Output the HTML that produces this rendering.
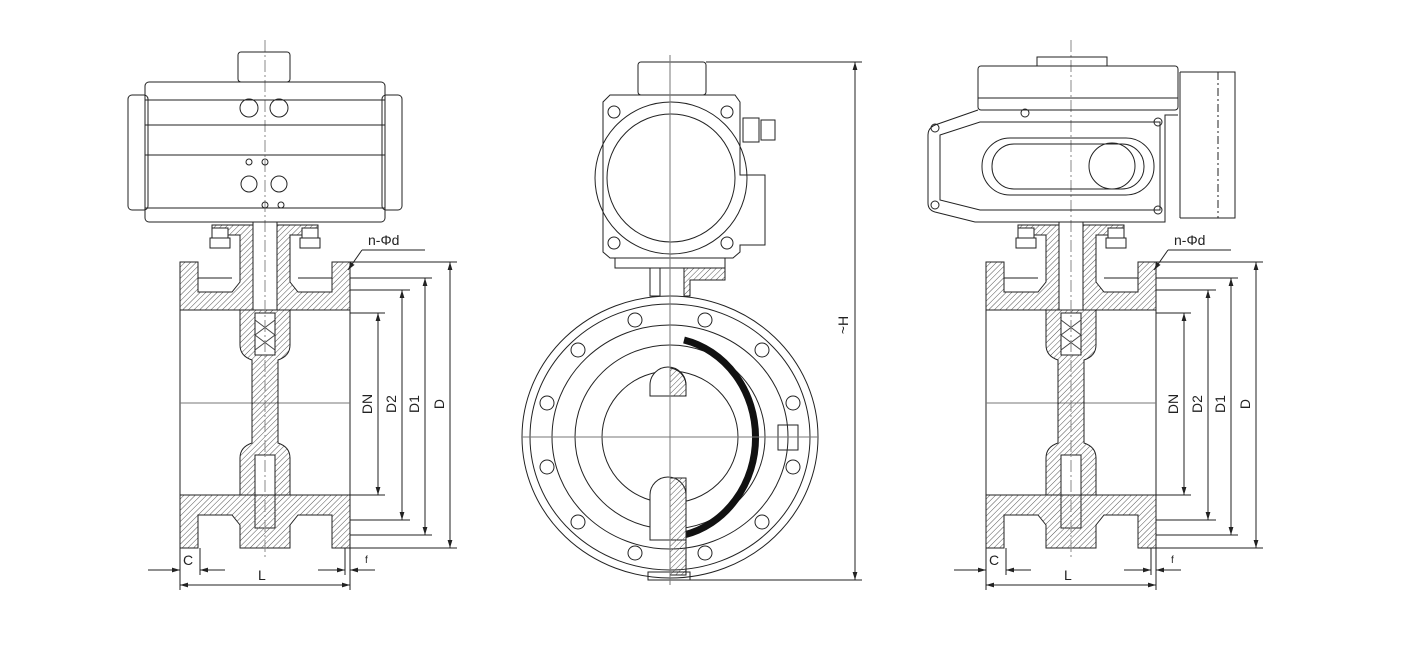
<!DOCTYPE html>
<html><head><meta charset="utf-8"><style>
html,body{margin:0;padding:0;background:#fff;}
svg{display:block}
text{font-family:"Liberation Sans",sans-serif;font-size:14px;fill:#222}
</style></head><body>
<svg width="1404" height="659" viewBox="0 0 1404 659" xmlns="http://www.w3.org/2000/svg">
<defs>
<marker id="a" viewBox="0 0 10 10" refX="10" refY="5" markerWidth="8" markerHeight="8" orient="auto-start-reverse"><path d="M0,2 L10,5 L0,8 z" fill="#222"/></marker>
<pattern id="h" width="4" height="4" patternUnits="userSpaceOnUse" patternTransform="rotate(45)"><line x1="0" y1="0" x2="0" y2="4" stroke="#555" stroke-width="1"/></pattern>
<g id="valve">
 <!-- top flange / neck -->
 <path d="M180,262 H198 V292 H232 L240,282 V235 H212 V225 H253 V310 H180 Z" fill="url(#h)" stroke="#222"/>
 <path d="M350,262 H332 V292 H298 L290,282 V235 H318 V225 H277 V310 H350 Z" fill="url(#h)" stroke="#222"/>
 <line x1="198" y1="278" x2="232" y2="278" stroke="#222"/><line x1="298" y1="278" x2="332" y2="278" stroke="#222"/>
 <rect x="180" y="310" width="170" height="185" fill="none" stroke="#222"/>
 <line x1="180" y1="403" x2="350" y2="403" stroke="#777"/>
 <!-- disc -->
 <path d="M240,310 H290 V345 Q290,356 278,360 V443 Q290,447 290,458 V495 H240 V458 Q240,447 252,443 V360 Q240,356 240,345 Z" fill="url(#h)" stroke="#222"/>
 <rect x="255" y="313" width="20" height="42" fill="#fff" stroke="#222"/>
 <path d="M255,320 L275,335 M275,320 L255,335 M255,335 L275,350 M275,335 L255,350" stroke="#444"/>
 <rect x="255" y="455" width="20" height="73" fill="#fff" stroke="#222"/>
 <!-- bottom flange -->
 <path d="M180,495 H350 V548 H332 V515 H298 L290,525 V548 H240 V525 L232,515 H198 V548 H180 Z" fill="url(#h)" stroke="#222"/>
 <rect x="253" y="222" width="24" height="88" fill="#fff" stroke="#222"/>
 <g stroke="#222" fill="#fff">
  <rect x="212" y="228" width="16" height="10"/><rect x="210" y="238" width="20" height="10"/>
  <rect x="302" y="228" width="16" height="10"/><rect x="300" y="238" width="20" height="10"/>
 </g>
 <line x1="265" y1="40" x2="265" y2="560" stroke="#888" stroke-dasharray="12,3,2,3"/>
 <!-- dims -->
 <g stroke="#222" fill="none">
  <line x1="350" y1="313" x2="385" y2="313"/><line x1="350" y1="495" x2="385" y2="495"/>
  <line x1="350" y1="290" x2="410" y2="290"/><line x1="350" y1="520" x2="410" y2="520"/>
  <line x1="350" y1="278" x2="432" y2="278"/><line x1="350" y1="535" x2="432" y2="535"/>
  <line x1="350" y1="262" x2="457" y2="262"/><line x1="350" y1="548" x2="457" y2="548"/>
  <line x1="378" y1="313" x2="378" y2="495" marker-start="url(#a)" marker-end="url(#a)"/>
  <line x1="402" y1="290" x2="402" y2="520" marker-start="url(#a)" marker-end="url(#a)"/>
  <line x1="425" y1="278" x2="425" y2="535" marker-start="url(#a)" marker-end="url(#a)"/>
  <line x1="450" y1="262" x2="450" y2="548" marker-start="url(#a)" marker-end="url(#a)"/>
  <line x1="180" y1="548" x2="180" y2="590"/><line x1="200" y1="548" x2="200" y2="575"/>
  <line x1="350" y1="548" x2="350" y2="590"/><line x1="345" y1="548" x2="345" y2="575"/>
  <line x1="148" y1="570" x2="180" y2="570" marker-end="url(#a)"/>
  <line x1="200" y1="570" x2="225" y2="570" marker-start="url(#a)"/>
  <line x1="180" y1="585" x2="350" y2="585" marker-start="url(#a)" marker-end="url(#a)"/>
  <line x1="318" y1="570" x2="345" y2="570" marker-end="url(#a)"/>
  <line x1="350" y1="570" x2="375" y2="570" marker-start="url(#a)"/>
  <line x1="348" y1="270" x2="362" y2="250" marker-start="url(#a)"/><line x1="362" y1="250" x2="425" y2="250"/>
 </g>
 <text x="368" y="245">n-Φd</text>
 <text transform="translate(372,404) rotate(-90)" text-anchor="middle">DN</text>
 <text transform="translate(396,404) rotate(-90)" text-anchor="middle">D2</text>
 <text transform="translate(419,404) rotate(-90)" text-anchor="middle">D1</text>
 <text transform="translate(444,404) rotate(-90)" text-anchor="middle">D</text>
 <text x="183" y="565">C</text>
 <text x="258" y="580">L</text>
 <text x="365" y="563" style="font-size:10px">f</text>
</g>
</defs>

<!-- LEFT -->
<use href="#valve"/>
<g stroke="#222" fill="none">
 <rect x="238" y="52" width="52" height="30" rx="3"/>
 <rect x="145" y="82" width="240" height="140" rx="4"/>
 <rect x="128" y="95" width="20" height="115" rx="4"/>
 <rect x="382" y="95" width="20" height="115" rx="4"/>
 <line x1="145" y1="125" x2="385" y2="125"/><line x1="145" y1="155" x2="385" y2="155"/>
 <line x1="145" y1="100" x2="385" y2="100"/><line x1="145" y1="208" x2="385" y2="208"/>
 <circle cx="249" cy="108" r="9"/><circle cx="279" cy="108" r="9"/>
 <circle cx="249" cy="184" r="8"/><circle cx="279" cy="184" r="8"/>
 <circle cx="249" cy="162" r="3"/><circle cx="265" cy="162" r="3"/>
 <circle cx="265" cy="205" r="3"/><circle cx="281" cy="205" r="3"/>
</g>

<!-- MIDDLE -->
<g stroke="#222" fill="none">
 <rect x="638" y="62" width="68" height="33" rx="3"/>
 <path d="M610,95 H735 L740,102 V175 H765 V245 H740 V252 L733,258 H610 L603,252 V102 Z"/>
 <rect x="743" y="118" width="16" height="24"/><rect x="761" y="120" width="14" height="20"/>
 <circle cx="671" cy="178" r="76"/><circle cx="671" cy="178" r="64"/>
 <circle cx="614" cy="112" r="6"/><circle cx="727" cy="112" r="6"/><circle cx="614" cy="243" r="6"/><circle cx="727" cy="243" r="6"/>
 <path d="M615,258 V268 H725 V258"/>
 <rect x="650" y="268" width="10" height="28"/>
 <path d="M684,268 H725 V280 H690 L690,296 H684 Z" fill="url(#h)"/>
 <ellipse cx="670" cy="437" rx="148" ry="141"/>
 <ellipse cx="670" cy="437" rx="140" ry="133"/>
 <ellipse cx="670" cy="437" rx="118" ry="112"/>
 <ellipse cx="670" cy="437" rx="95" ry="92"/>
 <ellipse cx="670" cy="437" rx="68" ry="66"/>
 <path d="M684,340 A92,100 0 0 1 684,535" stroke="#111" stroke-width="7"/>
 <path d="M650,385 A18,18 0 0 1 686,385 V396 H650 Z" fill="#fff"/>
 <path d="M670,370 V396 H686 V385 A18,18 0 0 0 670,368" fill="url(#h)"/>
 <path d="M650,495 A18,18 0 0 1 686,495 V540 H650 Z" fill="#fff"/>
 <path d="M670,478 H686 V575 H670 Z" fill="url(#h)"/>
 <rect x="648" y="572" width="42" height="8"/>
 <rect x="778" y="425" width="20" height="25"/>
 <line x1="670" y1="55" x2="670" y2="585" stroke="#777"/>
 <line x1="522" y1="437" x2="818" y2="437" stroke="#777"/>
 <g>
 <circle cx="635" cy="320" r="7"/><circle cx="578" cy="350" r="7"/><circle cx="547" cy="403" r="7"/>
 <circle cx="547" cy="467" r="7"/><circle cx="578" cy="522" r="7"/><circle cx="635" cy="553" r="7"/>
 <circle cx="705" cy="320" r="7"/><circle cx="762" cy="350" r="7"/><circle cx="793" cy="403" r="7"/>
 <circle cx="793" cy="467" r="7"/><circle cx="762" cy="522" r="7"/><circle cx="705" cy="553" r="7"/>
 </g>
 <line x1="706" y1="62" x2="862" y2="62"/><line x1="690" y1="580" x2="862" y2="580"/>
 <line x1="855" y1="62" x2="855" y2="580" marker-start="url(#a)" marker-end="url(#a)"/>
</g>
<text transform="translate(848,325) rotate(-90)" text-anchor="middle">~H</text>

<!-- RIGHT -->
<use href="#valve" transform="translate(806,0)"/>
<g stroke="#222" fill="none">
 <rect x="978" y="66" width="200" height="44" rx="3"/>
 <rect x="1037" y="57" width="70" height="9"/>
 <line x1="978" y1="98" x2="1178" y2="98"/>
 <path d="M978,110 L935,125 Q928,128 928,135 V203 Q928,210 935,212 L975,222 H1165 V115 H1178"/>
 <path d="M940,135 L980,122 H1160 V210 H980 L940,200 Z"/>
 <rect x="982" y="138" width="172" height="57" rx="28"/>
 <rect x="992" y="144" width="152" height="45" rx="22"/>
 <circle cx="1112" cy="166" r="23"/>
 <path d="M1180,72 H1235 V218 H1180"/>
 <line x1="1218" y1="72" x2="1218" y2="218" stroke-dasharray="8,3,2,3"/>
 <line x1="1180" y1="72" x2="1180" y2="218"/>
 <circle cx="935" cy="128" r="4"/><circle cx="935" cy="205" r="4"/>
 <circle cx="1158" cy="122" r="4"/><circle cx="1158" cy="210" r="4"/>
 <circle cx="1025" cy="113" r="4"/>
</g>
</svg>
</body></html>
